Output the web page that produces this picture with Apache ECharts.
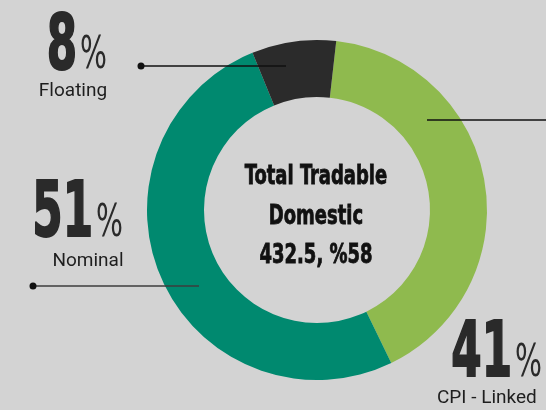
<!DOCTYPE html>
<html>
<head>
<meta charset="utf-8">
<script src="https://cdn.jsdelivr.net/npm/echarts@6/dist/echarts.min.js"></script>
<style>
  html, body { margin: 0; padding: 0; background: #d3d3d3; }
  #chart { width: 546px; height: 410px; }
</style>
</head>
<body>
<div id="chart"></div>
<script>
// data
const categories = ["CPI - Linked", "Nominal", "Floating"];
const shares = [41, 51, 8];
const centerLines = ["Total Tradable", "Domestic", "432.5, %58"];

const colors = ["#8fba4e", "#00896f", "#2b2b2b"];

const chart = echarts.init(document.getElementById("chart"));

const bigFont = "'DejaVu Sans Condensed', 'Liberation Sans Narrow', sans-serif";
const smallFont = "Roboto, sans-serif";

// squeezed text, anchored at (x, y); a thin stroke makes it heavier
function narrowText(text, x, y, font, sx, align, fill, weight) {
  return {
    type: "text",
    x: x, y: y, scaleX: sx,
    style: {
      text: text, x: 0, y: 0, align: align, verticalAlign: "middle",
      font: font, fill: fill, stroke: weight ? fill : null, lineWidth: weight || 0,
    },
  };
}

// one callout: big number, % sign, name, and a leader line with a dot
function callout(i, pos) {
  const out = [
    narrowText(String(shares[i]), pos.numX, pos.numY + 6, "bold 77px " + bigFont, 0.63, "right", "#2a2a2a", 2),
    narrowText("%", pos.numX + 3, pos.numY + 14, "45px " + bigFont, 0.7, "left", "#2a2a2a"),
    {
      type: "text",
      style: {
        text: categories[i], x: pos.nameX, y: pos.nameY,
        align: pos.nameAlign, verticalAlign: "middle",
        font: "19px " + smallFont, fill: "#1e1e1e",
      },
    },
    {
      type: "line",
      shape: { x1: pos.lx1, y1: pos.ly, x2: pos.lx2, y2: pos.ly },
      style: { stroke: pos.lineColor || "#111", lineWidth: 1.5 },
      z: 10,
    },
  ];
  if (pos.dot) {
    out.push({
      type: "circle",
      shape: { cx: pos.lx1, cy: pos.ly, r: 3.5 },
      style: { fill: "#111" },
      z: 10,
    });
  }
  return out;
}

const graphics = []
  .concat(callout(2, { numX: 77, numY: 42.5, nameX: 73, nameY: 91, nameAlign: "center", lx1: 141, lx2: 286, ly: 66, dot: true }))
  .concat(callout(1, { numX: 93, numY: 210, nameX: 88, nameY: 261, nameAlign: "center", lx1: 33, lx2: 199, ly: 286, dot: true, lineColor: "#3c3c3c" }))
  .concat(callout(0, { numX: 512, numY: 350, nameX: 437, nameY: 398, nameAlign: "left", lx1: 427, lx2: 546, ly: 120, dot: false }));

centerLines.forEach((t, k) => {
  graphics.push(narrowText(t, 316, 177 + k * 39.5, "bold 27px " + bigFont, 0.74, "center", "#111", 0.8));
});

chart.setOption({
  backgroundColor: "#d3d3d3",
  animation: false,
  series: [
    {
      type: "pie",
      center: [317, 210],
      radius: [113, 170],
      startAngle: 83.5,
      clockwise: true,
      silent: true,
      label: { show: false },
      labelLine: { show: false },
      emphasis: { disabled: true },
      data: categories.map((name, i) => ({
        name: name,
        value: shares[i],
        itemStyle: { color: colors[i] },
      })),
    },
  ],
  graphic: graphics,
});
</script>
</body>
</html>
